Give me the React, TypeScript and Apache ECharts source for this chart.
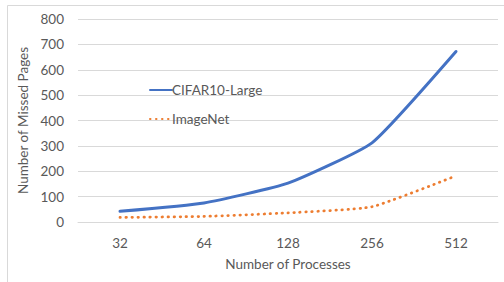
import React, { useEffect, useRef } from "react";
import * as echarts from "echarts";

const categories = ["32", "64", "128", "256", "512"];
const cifar = [42, 75, 153, 312, 672];
const imagenet = [18, 22, 36, 60, 182];
const yTicks = { min: 0, max: 800, interval: 100 };

const FONT = "Lato, 'Open Sans', sans-serif";
const TXT = "#595959";

export default function App() {
  const ref = useRef<HTMLDivElement>(null);
  useEffect(() => {
    document.body.style.margin = "0";
    const chart = echarts.init(ref.current!, null, { renderer: "svg" });
    chart.setOption({
      animation: false,
      textStyle: { fontFamily: FONT },
      graphic: [
        {
          type: "rect",
          shape: { x: 7.5, y: 5.5, width: 600, height: 400 },
          style: { fill: "none", stroke: "#d9d9d9", lineWidth: 1 },
          silent: true,
        },
      ],
      grid: { left: 78, right: 6, top: 19, bottom: 60 },
      legend: {
        orient: "vertical",
        left: 144,
        top: 78,
        itemWidth: 22,
        itemHeight: 14,
        itemGap: 15,
        itemStyle: { opacity: 0 },
        textStyle: { color: TXT, fontSize: 13.5, fontFamily: FONT, padding: [0, 0, 0, -5] },
        data: ["CIFAR10-Large", "ImageNet"],
      },
      xAxis: {
        type: "category",
        data: categories,
        boundaryGap: true,
        name: "Number of Processes",
        nameLocation: "middle",
        nameGap: 35,
        nameTextStyle: { color: TXT, fontSize: 13.5, fontFamily: FONT },
        axisLine: { show: true, lineStyle: { color: "#d9d9d9" } },
        axisTick: { show: false },
        axisLabel: { color: TXT, fontSize: 13.5, fontFamily: FONT, margin: 14 },
      },
      yAxis: {
        type: "value",
        min: yTicks.min,
        max: yTicks.max,
        interval: yTicks.interval,
        name: "Number of Missed Pages",
        nameLocation: "middle",
        nameGap: 45,
        nameTextStyle: { color: TXT, fontSize: 13.5, fontFamily: FONT },
        axisLine: { show: false },
        axisTick: { show: false },
        axisLabel: { color: TXT, fontSize: 13.5, fontFamily: FONT, margin: 14 },
        splitLine: { lineStyle: { color: "#d9d9d9", width: 1 } },
      },
      series: [
        {
          name: "CIFAR10-Large",
          type: "line",
          data: cifar,
          smooth: 0.15,
          symbol: "none",
          lineStyle: { color: "#4472C4", width: 3, cap: "round" },
          itemStyle: { color: "#4472C4" },
        },
        {
          name: "ImageNet",
          type: "line",
          data: imagenet,
          smooth: 0.15,
          symbol: "none",
          lineStyle: { color: "#ED7D31", width: 2.75, type: [0.5, 5.5], cap: "round" },
          itemStyle: { color: "#ED7D31" },
        },
      ],
    });
    return () => chart.dispose();
  }, []);
  return <div ref={ref} style={{ width: 504, height: 282 }} />;
}
